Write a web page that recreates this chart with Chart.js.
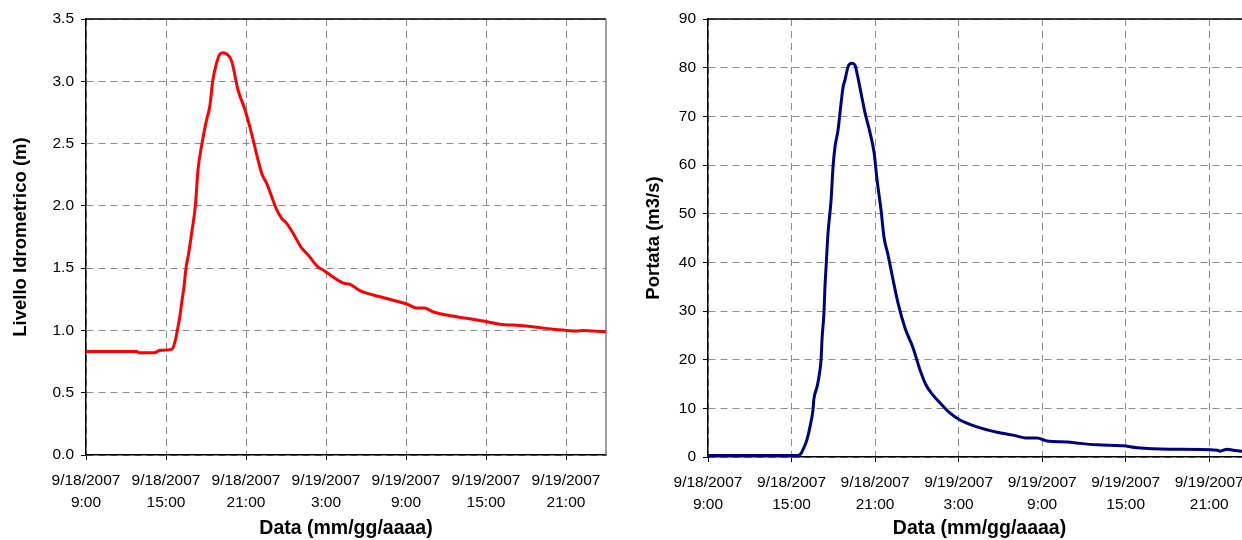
<!DOCTYPE html>
<html>
<head>
<meta charset="utf-8">
<script src="https://cdn.jsdelivr.net/npm/chart.js@4/dist/chart.umd.min.js"></script>
<style>
    html, body { margin: 0; padding: 0; background: #fff; overflow: hidden; width: 1242px; height: 540px; }
    #levelChart { position: absolute; left: 0; top: 0; }
    #flowChart { position: absolute; left: 620px; top: 0; }
</style>
</head>
<body>
<canvas id="levelChart" width="620" height="540"></canvas>
<canvas id="flowChart" width="650" height="540"></canvas>
<script>
// hours elapsed since 9/18/2007 9:00
const tickHours = [0, 6, 12, 18, 24, 30, 36];
const tickDates = ['9/18/2007', '9/18/2007', '9/18/2007', '9/19/2007', '9/19/2007', '9/19/2007', '9/19/2007'];
const tickTimes = ['9:00', '15:00', '21:00', '3:00', '9:00', '15:00', '21:00'];

// Livello idrometrico (m)
const levelHours = [0, 3.8, 4.0, 5.1, 5.55, 6.45, 6.7, 6.85, 7.05, 7.2, 7.35, 7.5, 7.7, 7.95, 8.2, 8.4, 8.7, 9.0, 9.3, 9.5, 9.75,
    10.05, 10.28, 10.65, 10.93, 11.4, 11.93, 12.3, 12.9, 13.18, 13.55, 14.3, 14.68, 15.05, 15.53, 16.18, 16.55, 17.4, 17.78,
    19.3, 19.8, 20.55, 22.05, 24.1, 24.8, 25.4, 26.0, 27.8, 29.0, 30.1, 31.05, 32.55, 33.5, 35.0, 36.1, 36.8, 37.3, 38.0, 39];
const levelValues = [0.83, 0.83, 0.82, 0.82, 0.84, 0.85, 0.92, 1.0, 1.12, 1.24, 1.35, 1.5, 1.62, 1.8, 2.0, 2.29, 2.5, 2.67, 2.81, 3.0, 3.13,
    3.22, 3.23, 3.21, 3.16, 2.93, 2.77, 2.63, 2.37, 2.26, 2.18, 1.97, 1.9, 1.86, 1.78, 1.66, 1.62, 1.51, 1.485,
    1.38, 1.37, 1.32, 1.27, 1.21, 1.18, 1.18, 1.15, 1.11, 1.09, 1.07, 1.05, 1.04, 1.03, 1.01, 1.0, 0.995, 1.0, 0.995, 0.99];

// Portata (m3/s)
const flowHours = [0, 6.47, 6.7, 6.82, 7.1, 7.33, 7.54, 7.6, 7.83, 7.97, 8.12, 8.2, 8.33, 8.4, 8.48, 8.62, 8.84, 8.98, 9.12, 9.34,
    9.48, 9.7, 9.84, 10.06, 10.34, 10.56, 10.7, 10.99, 11.28, 11.64, 11.93, 12.14, 12.43, 12.64, 12.93, 13.25, 13.65,
    14.15, 14.73, 15.23, 15.66, 16.16, 16.67, 17.39, 18.1, 19.32, 20.76, 21.91, 22.92, 23.63, 24.35, 25.79, 26.72, 27.95,
    29.81, 30.82, 33.19, 36.57, 36.78, 37.28, 37.72, 38.36, 39];
const flowValues = [0.3, 0.3, 0.8, 1.5, 3.5, 6.3, 9.7, 11.8, 14.4, 16.5, 20, 24.7, 29.7, 35, 39, 46, 52.8, 59.6, 63.7, 67.2,
    70.7, 76, 77.5, 80.2, 80.9, 80.5, 78.9, 74.8, 70.7, 66.6, 62.5, 57, 50.7, 45.2, 41.5, 37.0, 31.6,
    26.5, 22.4, 17.9, 14.8, 12.7, 11.1, 9.0, 7.6, 6.2, 5.1, 4.5, 3.9, 3.9, 3.3, 3.1, 2.8, 2.5,
    2.3, 1.9, 1.6, 1.4, 1.2, 1.6, 1.4, 1.2, 1.2];

const fontFamily = "'Liberation Sans', Arial, sans-serif";

// top and right edges of the plot area
const frameBorder = {
    id: 'frameBorder',
    beforeDatasetsDraw(chart) {
        const { ctx, chartArea } = chart;
        ctx.save();
        ctx.lineWidth = 1.5;
        ctx.strokeStyle = '#000';
        ctx.beginPath();
        ctx.moveTo(chartArea.left, chartArea.top);
        ctx.lineTo(chartArea.right, chartArea.top);
        ctx.stroke();
        ctx.strokeStyle = '#808080';
        ctx.beginPath();
        ctx.moveTo(chartArea.right, chartArea.top);
        ctx.lineTo(chartArea.right, chartArea.bottom);
        ctx.stroke();
        ctx.restore();
    }
};

function toPoints(xs, ys) {
    return xs.map((x, i) => ({ x: x, y: ys[i] }));
}

function makeChart(id, opts) {
    return new Chart(document.getElementById(id), {
        type: 'line',
        data: {
            datasets: [{
                data: toPoints(opts.hours, opts.values),
                borderColor: opts.color,
                borderWidth: 3,
                pointRadius: 0,
                cubicInterpolationMode: 'monotone',
                fill: false
            }]
        },
        options: {
            responsive: false,
            animation: false,
            devicePixelRatio: 1,
            layout: { padding: { top: 19, right: opts.padRight, left: 0, bottom: 0 } },
            plugins: { legend: { display: false }, tooltip: { enabled: false } },
            scales: {
                x: {
                    type: 'linear',
                    min: 0,
                    max: 39,
                    afterFit: s => { s.height = opts.xHeight; },
                    ticks: {
                        stepSize: 6,
                        includeBounds: false,
                        autoSkip: false,
                        maxRotation: 0,
                        padding: 9,
                        color: '#000',
                        font: { family: fontFamily, size: 15.5, lineHeight: 1.45 },
                        callback: value => {
                            const i = tickHours.indexOf(value);
                            return i < 0 ? '' : [tickDates[i], tickTimes[i]];
                        }
                    },
                    grid: { color: '#8c8c8c', lineWidth: 1, tickLength: 5, tickColor: '#000' },
                    border: { color: '#000', width: 1.5, dash: [7, 5] },
                    title: {
                        display: true,
                        text: 'Data (mm/gg/aaaa)',
                        color: '#000',
                        font: { family: fontFamily, size: 19.5, weight: 'bold' },
                        padding: { top: 0, bottom: 0 }
                    }
                },
                y: {
                    min: 0,
                    max: opts.yMax,
                    afterFit: s => { s.width = opts.yWidth; },
                    ticks: {
                        stepSize: opts.yStep,
                        padding: 7,
                        color: '#000',
                        font: { family: fontFamily, size: 15.5 },
                        callback: opts.yFormat
                    },
                    grid: { color: '#8c8c8c', lineWidth: 1, tickLength: 5, tickColor: '#000' },
                    border: { color: '#000', width: 1.5, dash: [7, 5] },
                    title: {
                        display: true,
                        text: opts.yTitle,
                        color: '#000',
                        font: { family: fontFamily, size: 18.5, weight: 'bold' },
                        padding: { top: opts.yTitlePad, bottom: 0 }
                    }
                }
            }
        },
        plugins: [frameBorder]
    });
}

makeChart('levelChart', {
    hours: levelHours,
    values: levelValues,
    color: '#ff0000',
    padRight: 14,
    xHeight: 85,
    yWidth: 86,
    yMax: 3.5,
    yStep: 0.5,
    yFormat: v => v.toFixed(1),
    yTitle: 'Livello Idrometrico (m)',
    yTitlePad: 10
});

makeChart('flowChart', {
    hours: flowHours,
    values: flowValues,
    color: '#000080',
    padRight: 19,
    xHeight: 83,
    yWidth: 88,
    yMax: 90,
    yStep: 10,
    yFormat: v => v,
    yTitle: 'Portata (m3/s)',
    yTitlePad: 23
});
</script>
</body>
</html>
